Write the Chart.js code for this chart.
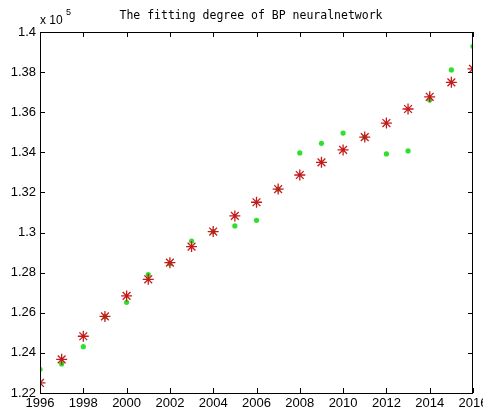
<!DOCTYPE html>
<html><head><meta charset="utf-8">
<script src="https://cdn.jsdelivr.net/npm/chart.js@4/dist/chart.umd.min.js"></script>
<style>html,body{margin:0;padding:0;background:#fff}#wrap{width:483px;height:413px}</style>
</head><body><div id="wrap"><canvas id="c" width="483" height="413"></canvas></div>
<script>
const years = [1996,1997,1998,1999,2000,2001,2002,2003,2004,2005,2006,2007,2008,2009,2010,2011,2012,2013,2014,2015,2016];
const actual = [1.2318,1.2345,1.2431,1.2580,1.2652,1.2790,1.2845,1.2958,1.3005,1.3033,1.3061,1.3217,1.3397,1.3445,1.3496,1.3476,1.3392,1.3407,1.3661,1.3811,1.3929];
const fitted = [1.2250,1.2368,1.2483,1.2582,1.2684,1.2767,1.2850,1.2930,1.3005,1.3083,1.3151,1.3217,1.3287,1.3350,1.3412,1.3476,1.3546,1.3616,1.3677,1.3749,1.3816];
const xTicks = [1996,1998,2000,2002,2004,2006,2008,2010,2012,2014,2016];
const yTicks = [1.22,1.24,1.26,1.28,1.3,1.32,1.34,1.36,1.38,1.4];
const titleText = 'The fitting degree of BP neuralnetwork';
const exponentText = ['x 10', '5'];

const pts = (ys) => years.map((x,i)=>({x, y: ys[i]}));

const deco = {
  id:'deco',
  afterDraw(chart){
    const {ctx, chartArea:a, scales:{x, y}} = chart;
    ctx.save();
    ctx.strokeStyle='#000'; ctx.lineWidth=1;
    ctx.beginPath();
    ctx.rect(a.left+0.5, a.top+0.5, a.right-a.left-1, a.bottom-a.top);
    ctx.stroke();
    ctx.beginPath();
    const L=5;
    xTicks.forEach(v=>{
      const px=Math.round(x.getPixelForValue(v))+0.5;
      ctx.moveTo(px,a.bottom); ctx.lineTo(px,a.bottom-L);
      ctx.moveTo(px,a.top); ctx.lineTo(px,a.top+L);
    });
    yTicks.forEach(v=>{
      const py=Math.round(y.getPixelForValue(v))+0.5;
      ctx.moveTo(a.left,py); ctx.lineTo(a.left+L,py);
      ctx.moveTo(a.right,py); ctx.lineTo(a.right-L,py);
    });
    ctx.stroke();
    ctx.fillStyle='#000';
    ctx.font='11.5px "DejaVu Sans Mono", monospace';
    ctx.textAlign='center'; ctx.textBaseline='middle';
    ctx.fillText(titleText, 251, 16);
    ctx.textAlign='left';
    ctx.font='12px "Liberation Sans", Arial, sans-serif';
    ctx.fillText(exponentText[0], 40, 21);
    ctx.font='9px "Liberation Sans", Arial, sans-serif';
    ctx.fillText(exponentText[1], 66, 13);
    ctx.restore();
  }
};

new Chart(document.getElementById('c'), {
  type:'scatter',
  data:{datasets:[
    {label:'fitted', data:pts(fitted), pointStyle:'star', radius:5.5, borderColor:'#c41a1a', backgroundColor:'#c41a1a', borderWidth:1.3, pointHoverRadius:5.5},
    {label:'actual', data:pts(actual), pointStyle:'circle', radius:2.6, borderColor:'#2ee02e', backgroundColor:'#2ee02e', borderWidth:0, pointHoverRadius:2.6}
  ]},
  options:{
    responsive:false, animation:false, devicePixelRatio:1,
    layout:{padding:{top:32,right:10,left:0,bottom:0}},
    plugins:{legend:{display:false}, tooltip:{enabled:false}},
    scales:{
      x:{type:'linear', min:1996, max:2016,
        afterBuildTicks:(s)=>{s.ticks=xTicks.map(v=>({value:v}));},
        afterFit:(s)=>{s.height=20; s.paddingLeft=0; s.paddingRight=0;},
        grid:{display:false, drawTicks:false}, border:{display:false},
        ticks:{padding:3, color:'#000', maxRotation:0, autoSkip:false, font:{family:'"Liberation Sans", Arial, sans-serif', size:13}, callback:(v)=>String(v)}
      },
      y:{type:'linear', min:1.22, max:1.4,
        afterBuildTicks:(s)=>{s.ticks=yTicks.map(v=>({value:v}));},
        afterFit:(s)=>{s.width=40; s.paddingTop=0; s.paddingBottom=0;},
        grid:{display:false, drawTicks:false}, border:{display:false},
        ticks:{padding:4, color:'#000', autoSkip:false, font:{family:'"Liberation Sans", Arial, sans-serif', size:13}, callback:(v)=>String(parseFloat(Number(v).toFixed(2)))}
      }
    }
  },
  plugins:[deco]
});
</script></body></html>
